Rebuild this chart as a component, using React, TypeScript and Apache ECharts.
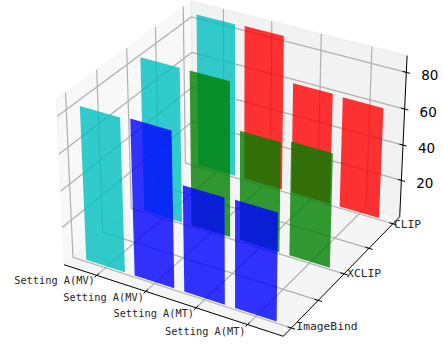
import React, { useEffect, useRef } from "react";
import * as echarts from "echarts";

const settingLabels = ["Setting A(MV)", "Setting A(MV)", "Setting A(MT)", "Setting A(MT)"];
const xTicks = [0, 1, 2, 3];
const yTicks = [0, 0.5, 1, 1.5, 2];
const yTickLabels = ["ImageBind", "", "XCLIP", "", "CLIP"];
const zTicks = [20, 40, 60, 80];
const imageBindValues = [84, 85, 58, 58.5];
const xclipValues = [86, 86, 61, 63];
const clipValues = [86.5, 87, 62.5, 62];
const rowValues = [imageBindValues, xclipValues, clipValues];
const rowColors = ["#0000ff", "#008000", "#ff0000"];
const firstColumnColor = "#00bfbf";

const W = 443;
const H = 344;
const LIM = { x: [-0.68, 3.68], y: [-0.146, 2.146], z: [-1, 89] };
const BOX = [1.19, 1.19, 0.893];
const EL = (30 * Math.PI) / 180;
const AZ = (-60 * Math.PI) / 180;
const SCALE = 2110;
const CX = 235;
const CY = 160.5;

const dot = (a: number[], b: number[]) => a[0] * b[0] + a[1] * b[1] + a[2] * b[2];
const w = [Math.cos(EL) * Math.cos(AZ), Math.cos(EL) * Math.sin(AZ), Math.sin(EL)];
const uRaw = [-w[1], w[0], 0];
const uLen = Math.hypot(uRaw[0], uRaw[1]);
const u = [uRaw[0] / uLen, uRaw[1] / uLen, 0];
const v = [
  w[1] * u[2] - w[2] * u[1],
  w[2] * u[0] - w[0] * u[2],
  w[0] * u[1] - w[1] * u[0],
];

function rel(x: number, y: number, z: number) {
  return [
    ((x - LIM.x[0]) / (LIM.x[1] - LIM.x[0]) - 0.5) * BOX[0],
    ((y - LIM.y[0]) / (LIM.y[1] - LIM.y[0]) - 0.5) * BOX[1],
    ((z - LIM.z[0]) / (LIM.z[1] - LIM.z[0]) - 0.5) * BOX[2],
  ];
}
function depth(x: number, y: number, z: number) {
  return 10 - dot(rel(x, y, z), w);
}
function project(x: number, y: number, z: number): [number, number] {
  const p = rel(x, y, z);
  const d = 10 - dot(p, w);
  return [CX + (SCALE * dot(p, u)) / d, CY - (SCALE * dot(p, v)) / d];
}

const [x0, x1] = LIM.x;
const [y0, y1] = LIM.y;
const [z0, z1] = LIM.z;
type P3 = [number, number, number];

const panes: { pts: P3[]; fill: string }[] = [
  { pts: [[x0, y0, z0], [x0, y1, z0], [x0, y1, z1], [x0, y0, z1]], fill: "rgba(242,242,242,0.5)" },
  { pts: [[x0, y1, z0], [x1, y1, z0], [x1, y1, z1], [x0, y1, z1]], fill: "rgba(230,230,230,0.5)" },
  { pts: [[x0, y0, z0], [x1, y0, z0], [x1, y1, z0], [x0, y1, z0]], fill: "rgba(236,236,236,0.5)" },
];

const gridPaths: P3[][] = [
  ...xTicks.map((t): P3[] => [[t, y0, z0], [t, y1, z0], [t, y1, z1]]),
  ...yTicks.map((t): P3[] => [[x1, t, z0], [x0, t, z0], [x0, t, z1]]),
  ...zTicks.map((t): P3[] => [[x0, y0, t], [x0, y1, t], [x1, y1, t]]),
];

const axisPaths: P3[][] = [
  [[x0, y0, z0], [x1, y0, z0]],
  [[x1, y0, z0], [x1, y1, z0]],
  [[x1, y1, z0], [x1, y1, z1]],
];
const dx = (x1 - x0) / 12;
const dy = (y1 - y0) / 12;
const tickPaths: P3[][] = [
  ...xTicks.map((t): P3[] => [[t, y0 + dy * 0.2, z0], [t, y0 - dy * 0.2, z0]]),
  ...yTicks.map((t): P3[] => [[x1 - dx * 0.2, t, z0], [x1 + dx * 0.2, t, z0]]),
  ...zTicks.map((t): P3[] => [[x1 - dx * 0.2, y1, t], [x1 + dx * 0.2, y1, t]]),
];

type Label = { text: string; at: P3; ox: number; oy: number; align: string; font: string; color: string };
const mono = "DejaVu Sans Mono";
const settingOffsetsY = [5, 6, 5, 6];
const yLabelOffsets: Record<string, [number, number]> = {
  ImageBind: [5, -2],
  XCLIP: [3, 0],
  CLIP: [1, 1],
};
const labels: Label[] = [
  ...settingLabels.map((s, i): Label => ({
    text: s, at: [xTicks[i], y0, z0], ox: -2, oy: settingOffsetsY[i], align: "right", font: `10.3px "${mono}"`, color: "#262626",
  })),
  ...yTicks
    .map((t, i): Label => ({
      text: yTickLabels[i],
      at: [x1, t, z0],
      ox: (yLabelOffsets[yTickLabels[i]] || [0, 0])[0],
      oy: (yLabelOffsets[yTickLabels[i]] || [0, 0])[1],
      align: "left",
      font: `11.3px "${mono}"`,
      color: "#262626",
    }))
    .filter((l) => l.text),
  ...zTicks.map((t): Label => ({
    text: String(t), at: [x1, y1, t], ox: 23.5, oy: 3, align: "center", font: `13.5px "DejaVu Sans"`, color: "#000",
  })),
];

type Bar = { x: number; y: number; value: number; color: string };
const bars: Bar[] = [];
rowValues.forEach((row, r) =>
  row.forEach((value, c) => {
    bars.push({ x: xTicks[c], y: r, value, color: c === 0 ? firstColumnColor : rowColors[r] });
  })
);
bars.sort((a, b) => depth(b.x, b.y, b.value / 2) - depth(a.x, a.y, a.value / 2));

const BAR_WIDTH = 0.8;

export default function App() {
  const ref = useRef<HTMLDivElement>(null);
  useEffect(() => {
    document.body.style.margin = "0";
    const chart = echarts.init(ref.current!, undefined, { renderer: "svg" });
    const pts = (api: any, list: P3[]) =>
      list.map((p) => api.coord(project(p[0], p[1], p[2])));
    chart.setOption({
      animation: false,
      grid: { left: 0, right: 0, top: 0, bottom: 0 },
      xAxis: { type: "value", min: 0, max: W, show: false },
      yAxis: { type: "value", min: 0, max: H, inverse: true, show: false },
      series: [
        {
          type: "custom",
          silent: true,
          clip: false,
          data: panes.map((_, i) => [i, 0]),
          encode: { x: 0, y: 1 },
          renderItem: (params: any, api: any) => ({
            type: "polygon",
            shape: { points: pts(api, panes[params.dataIndex].pts) },
            style: { fill: panes[params.dataIndex].fill, stroke: panes[params.dataIndex].fill, lineWidth: 1 },
          }),
        },
        {
          type: "custom",
          silent: true,
          clip: false,
          data: gridPaths.map((_, i) => [i, 0]),
          encode: { x: 0, y: 1 },
          renderItem: (params: any, api: any) => ({
            type: "polyline",
            shape: { points: pts(api, gridPaths[params.dataIndex]) },
            style: { fill: "none", stroke: "#b0b0b0", lineWidth: 1.2 },
          }),
        },
        {
          type: "custom",
          silent: true,
          clip: false,
          data: [...axisPaths, ...tickPaths].map((_, i) => [i, 0]),
          encode: { x: 0, y: 1 },
          renderItem: (params: any, api: any) => ({
            type: "polyline",
            shape: { points: pts(api, [...axisPaths, ...tickPaths][params.dataIndex]) },
            style: { fill: "none", stroke: "#000", lineWidth: 1 },
          }),
        },
        {
          type: "custom",
          silent: true,
          clip: false,
          data: bars.map((b) => [b.x, b.y, b.value]),
          encode: { x: 0, y: 1 },
          renderItem: (params: any, api: any) => {
            const b = bars[params.dataIndex];
            const a = b.x - BAR_WIDTH / 2;
            const c = b.x + BAR_WIDTH / 2;
            return {
              type: "polygon",
              shape: {
                points: pts(api, [[a, b.y, 0], [c, b.y, 0], [c, b.y, b.value], [a, b.y, b.value]]),
              },
              style: { fill: b.color, opacity: 0.8 },
            };
          },
        },
        {
          type: "custom",
          silent: true,
          clip: false,
          data: labels.map((_, i) => [i, 0]),
          encode: { x: 0, y: 1 },
          renderItem: (params: any, api: any) => {
            const l = labels[params.dataIndex];
            const p = api.coord(project(l.at[0], l.at[1], l.at[2]));
            return {
              type: "text",
              style: {
                text: l.text,
                x: p[0] + l.ox,
                y: p[1] + l.oy,
                font: l.font,
                fill: l.color,
                textAlign: l.align,
                textVerticalAlign: "middle",
              },
            };
          },
        },
      ],
    });
    return () => chart.dispose();
  }, []);
  return <div ref={ref} style={{ width: W, height: H }} />;
}
